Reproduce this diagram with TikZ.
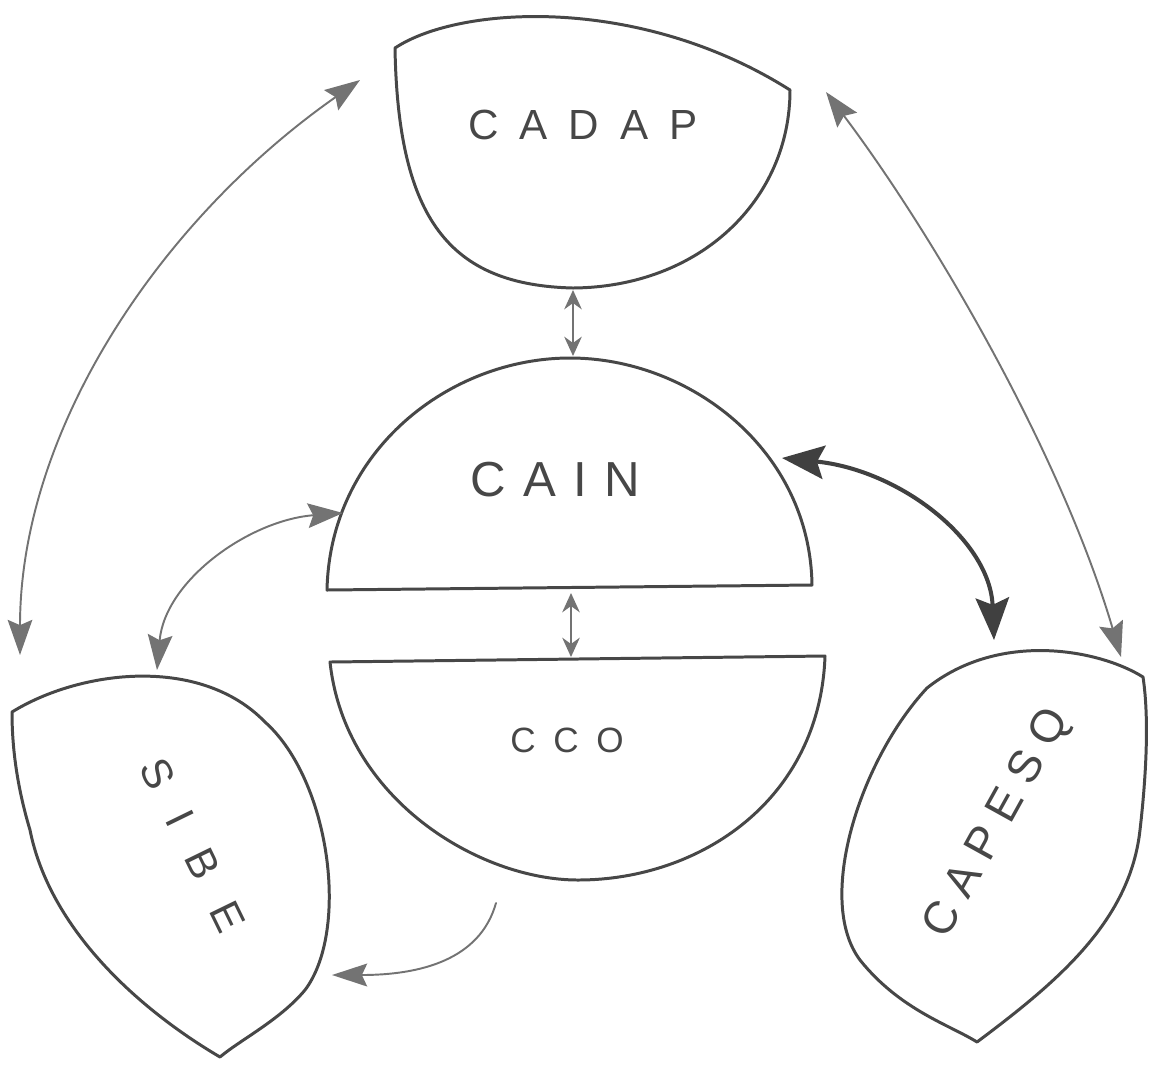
\documentclass[tikz,border=0pt]{standalone}
\usepackage{fontspec}
\setmainfont{Liberation Sans}
\usetikzlibrary{arrows.meta}
\begin{document}
\begin{tikzpicture}[x=0.02cm,y=-0.02cm,
  outline/.style={draw=black!72,line width=1.7pt,line join=round,line cap=round},
  link/.style={draw=black!55,line width=1.1pt,line cap=round},
  thick link/.style={draw=black!75,line width=2.3pt,line cap=round},
  lbl/.style={text=black!72,inner sep=0pt},
  smallhead/.style={arrows={Stealth[length=11pt,width=10pt,fill=black!55]-Stealth[length=11pt,width=10pt,fill=black!55]}},
  bighead/.style={arrows={Stealth[length=20pt,width=14pt,inset=3pt,fill=black!55]-Stealth[length=20pt,width=14pt,inset=3pt,fill=black!55]}},
  fathead/.style={arrows={Stealth[length=24pt,width=19pt,inset=4pt,fill=black!75]-Stealth[length=24pt,width=19pt,inset=4pt,fill=black!75]}},
  onehead/.style={arrows={-Stealth[length=20pt,width=13pt,inset=3pt,fill=black!55]}}]
\useasboundingbox (0,0) rectangle (1149,1066);

% CADAP
\draw[outline] (395,48) .. controls (460,5) and (640,-5) .. (790,90)
  .. controls (790,200) and (700,287) .. (573,288)
  .. controls (450,285) and (398,220) .. cycle;
\node[lbl,font=\fontsize{24}{28}\selectfont\addfontfeatures{LetterSpace=50}] (cadap) at (583,125) {CADAP};

% CAIN
\draw[outline] (327,590) .. controls (330,450) and (450,358) .. (570,358)
  .. controls (690,358) and (810,450) .. (812,585) -- cycle;
\node[lbl,font=\fontsize{28}{32}\selectfont\addfontfeatures{LetterSpace=35}] (cain) at (555,480) {CAIN};

% CCO
\draw[outline] (330,662) .. controls (345,800) and (480,880) .. (578,880)
  .. controls (700,880) and (820,800) .. (825,656) -- cycle;
\node[lbl,font=\fontsize{20}{24}\selectfont\addfontfeatures{LetterSpace=50}] (cco) at (567,740) {CCO};

% SIBE
\draw[outline] (12,712) .. controls (80,670) and (200,655) .. (265,722)
  .. controls (330,780) and (350,930) .. (305,990)
  .. controls (280,1020) and (240,1040) .. (220,1057)
  .. controls (140,1010) and (50,930) .. (30,830)
  .. controls (15,780) and (12,740) .. cycle;
\node[lbl,rotate=-64,font=\fontsize{24}{28}\selectfont\addfontfeatures{LetterSpace=72}] (sibe) at (193,845) {SIBE};

% CAPESQ
\draw[outline] (1143,677) .. controls (1100,650) and (1000,630) .. (927,688)
  .. controls (860,760) and (815,900) .. (860,960)
  .. controls (900,1010) and (950,1025) .. (977,1042)
  .. controls (1060,980) and (1130,920) .. (1140,830)
  .. controls (1148,760) and (1148,710) .. cycle;
\node[lbl,rotate=61,font=\fontsize{26}{30}\selectfont\addfontfeatures{LetterSpace=28}] (capesq) at (998,824) {CAPESQ};

% anchor points
\coordinate (cadapL) at (360,80);
\coordinate (cadapR) at (826,92);
\coordinate (cadapB) at (573,290);
\coordinate (cainT) at (573,356);
\coordinate (cainB) at (571,593);
\coordinate (cainL) at (343,513);
\coordinate (cainR) at (782,458);
\coordinate (ccoT) at (571,657);
\coordinate (ccoB) at (496,903);
\coordinate (sibeTL) at (20,655);
\coordinate (sibeT) at (157,670);
\coordinate (sibeR) at (332,975);
\coordinate (capesqT) at (1121,657);
\coordinate (capesqTL) at (994,640);

% connectors
\draw[link,smallhead] (cadapB) -- (cainT);
\draw[link,smallhead] (cainB) -- (ccoT);
\draw[link,bighead] (sibeTL) .. controls (20,430) and (160,220) .. (cadapL);
\draw[link,bighead] (cadapR) .. controls (930,230) and (1060,450) .. (capesqT);
\draw[thick link,fathead] (cainR) .. controls (900,470) and (990,540) .. (capesqTL);
\draw[link,bighead] (cainL) .. controls (250,520) and (165,580) .. (sibeT);
\draw[link,onehead] (ccoB) .. controls (480,960) and (420,975) .. (sibeR);
\end{tikzpicture}
\end{document}
